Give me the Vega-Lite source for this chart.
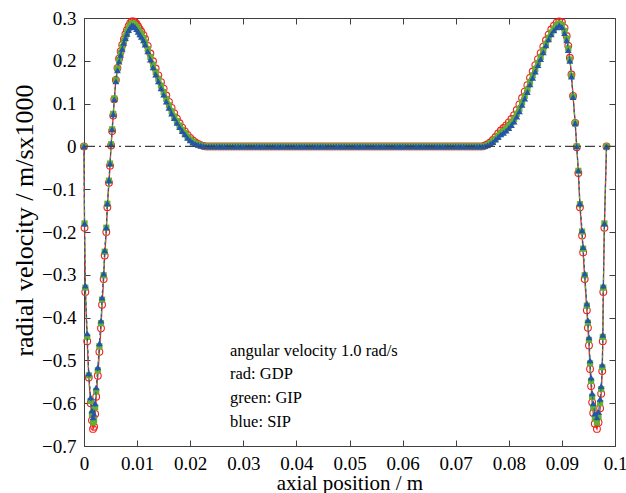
{
  "$schema": "https://vega.github.io/schema/vega-lite/v6.json",
  "width": 531,
  "height": 428,
  "autosize": {"type": "none"},
  "padding": {"left": 84, "top": 18, "right": 11, "bottom": 47},
  "background": "white",
  "config": {
    "font": "Liberation Serif",
    "view": {"stroke": "#404040", "strokeWidth": 1},
    "axis": {
      "grid": false,
      "domainColor": "#404040",
      "tickColor": "#404040",
      "labelColor": "black",
      "titleColor": "black",
      "labelFont": "Liberation Serif",
      "titleFont": "Liberation Serif",
      "labelFontSize": 19,
      "titleFontSize": 21,
      "titleFontWeight": "normal",
      "labelFlush": false,
      "labelOverlap": false
    }
  },
  "datasets": {
    "prof": [
      {"x":0,"r":0,"g":0,"b":0},
      {"x":0.0001,"r":-0.19,"g":-0.18,"b":-0.18},
      {"x":0.00025,"r":-0.34,"g":-0.33,"b":-0.325},
      {"x":0.0006,"r":-0.455,"g":-0.445,"b":-0.437},
      {"x":0.0009,"r":-0.54,"g":-0.535,"b":-0.53},
      {"x":0.00125,"r":-0.6,"g":-0.595,"b":-0.586},
      {"x":0.0015,"r":-0.64,"g":-0.625,"b":-0.617},
      {"x":0.0017,"r":-0.66,"g":-0.645,"b":-0.633},
      {"x":0.0019,"r":-0.655,"g":-0.64,"b":-0.625},
      {"x":0.0021,"r":-0.625,"g":-0.61,"b":-0.6},
      {"x":0.0023,"r":-0.585,"g":-0.572,"b":-0.563},
      {"x":0.0026,"r":-0.536,"g":-0.523,"b":-0.516},
      {"x":0.0029,"r":-0.48,"g":-0.467,"b":-0.46},
      {"x":0.0032,"r":-0.425,"g":-0.413,"b":-0.407},
      {"x":0.0034,"r":-0.37,"g":-0.358,"b":-0.353},
      {"x":0.0037,"r":-0.31,"g":-0.301,"b":-0.297},
      {"x":0.0039,"r":-0.255,"g":-0.246,"b":-0.243},
      {"x":0.0042,"r":-0.2,"g":-0.19,"b":-0.189},
      {"x":0.0044,"r":-0.142,"g":-0.134,"b":-0.133},
      {"x":0.0047,"r":-0.085,"g":-0.08,"b":-0.079},
      {"x":0.0049,"r":-0.045,"g":-0.04,"b":-0.04},
      {"x":0.0051,"r":0.002,"g":0.005,"b":0.005},
      {"x":0.0053,"r":0.036,"g":0.04,"b":0.04},
      {"x":0.0055,"r":0.072,"g":0.076,"b":0.075},
      {"x":0.0057,"r":0.11,"g":0.112,"b":0.11},
      {"x":0.006,"r":0.155,"g":0.155,"b":0.152},
      {"x":0.0063,"r":0.183,"g":0.182,"b":0.178},
      {"x":0.0066,"r":0.205,"g":0.202,"b":0.198},
      {"x":0.0069,"r":0.222,"g":0.218,"b":0.214},
      {"x":0.0072,"r":0.237,"g":0.232,"b":0.228},
      {"x":0.0075,"r":0.25,"g":0.246,"b":0.242},
      {"x":0.0078,"r":0.262,"g":0.257,"b":0.253},
      {"x":0.0081,"r":0.272,"g":0.267,"b":0.263},
      {"x":0.0084,"r":0.281,"g":0.276,"b":0.272},
      {"x":0.0087,"r":0.288,"g":0.283,"b":0.278},
      {"x":0.009,"r":0.292,"g":0.287,"b":0.283},
      {"x":0.0093,"r":0.292,"g":0.287,"b":0.282},
      {"x":0.0096,"r":0.29,"g":0.284,"b":0.279},
      {"x":0.0099,"r":0.286,"g":0.279,"b":0.274},
      {"x":0.0102,"r":0.28,"g":0.273,"b":0.268},
      {"x":0.0105,"r":0.274,"g":0.267,"b":0.262},
      {"x":0.0108,"r":0.268,"g":0.261,"b":0.256},
      {"x":0.0112,"r":0.26,"g":0.253,"b":0.248},
      {"x":0.0115,"r":0.251,"g":0.243,"b":0.238},
      {"x":0.012,"r":0.235,"g":0.227,"b":0.222},
      {"x":0.0125,"r":0.217,"g":0.209,"b":0.203},
      {"x":0.013,"r":0.199,"g":0.191,"b":0.185},
      {"x":0.0135,"r":0.182,"g":0.174,"b":0.168},
      {"x":0.014,"r":0.166,"g":0.158,"b":0.152},
      {"x":0.0145,"r":0.15,"g":0.142,"b":0.136},
      {"x":0.015,"r":0.135,"g":0.127,"b":0.121},
      {"x":0.0155,"r":0.119,"g":0.111,"b":0.105},
      {"x":0.016,"r":0.104,"g":0.096,"b":0.09},
      {"x":0.0165,"r":0.09,"g":0.082,"b":0.077},
      {"x":0.017,"r":0.077,"g":0.07,"b":0.066},
      {"x":0.0175,"r":0.065,"g":0.059,"b":0.055},
      {"x":0.018,"r":0.054,"g":0.049,"b":0.045},
      {"x":0.0185,"r":0.044,"g":0.039,"b":0.036},
      {"x":0.019,"r":0.035,"g":0.031,"b":0.028},
      {"x":0.0195,"r":0.027,"g":0.023,"b":0.02},
      {"x":0.02,"r":0.02,"g":0.016,"b":0.014},
      {"x":0.0205,"r":0.014,"g":0.011,"b":0.009},
      {"x":0.021,"r":0.009,"g":0.007,"b":0.006},
      {"x":0.0215,"r":0.006,"g":0.004,"b":0.004},
      {"x":0.022,"r":0.003,"g":0.002,"b":0.002},
      {"x":0.0225,"r":0.001,"g":0.001,"b":0.001},
      {"x":0.023,"r":0,"g":0,"b":0},
      {"x":0.0235,"r":0,"g":0,"b":0},
      {"x":0.024,"r":0,"g":0,"b":0},
      {"x":0.0245,"r":0,"g":0,"b":0},
      {"x":0.025,"r":0,"g":0,"b":0},
      {"x":0.0255,"r":0,"g":0,"b":0},
      {"x":0.026,"r":0,"g":0,"b":0},
      {"x":0.0265,"r":0,"g":0,"b":0},
      {"x":0.027,"r":0,"g":0,"b":0},
      {"x":0.0275,"r":0,"g":0,"b":0},
      {"x":0.028,"r":0,"g":0,"b":0},
      {"x":0.0285,"r":0,"g":0,"b":0},
      {"x":0.029,"r":0,"g":0,"b":0},
      {"x":0.0295,"r":0,"g":0,"b":0},
      {"x":0.03,"r":0,"g":0,"b":0},
      {"x":0.0305,"r":0,"g":0,"b":0},
      {"x":0.031,"r":0,"g":0,"b":0},
      {"x":0.0315,"r":0,"g":0,"b":0},
      {"x":0.032,"r":0,"g":0,"b":0},
      {"x":0.0325,"r":0,"g":0,"b":0},
      {"x":0.033,"r":0,"g":0,"b":0},
      {"x":0.0335,"r":0,"g":0,"b":0},
      {"x":0.034,"r":0,"g":0,"b":0},
      {"x":0.0345,"r":0,"g":0,"b":0},
      {"x":0.035,"r":0,"g":0,"b":0},
      {"x":0.0355,"r":0,"g":0,"b":0},
      {"x":0.036,"r":0,"g":0,"b":0},
      {"x":0.0365,"r":0,"g":0,"b":0},
      {"x":0.037,"r":0,"g":0,"b":0},
      {"x":0.0375,"r":0,"g":0,"b":0},
      {"x":0.038,"r":0,"g":0,"b":0},
      {"x":0.0385,"r":0,"g":0,"b":0},
      {"x":0.039,"r":0,"g":0,"b":0},
      {"x":0.0395,"r":0,"g":0,"b":0},
      {"x":0.04,"r":0,"g":0,"b":0},
      {"x":0.0405,"r":0,"g":0,"b":0},
      {"x":0.041,"r":0,"g":0,"b":0},
      {"x":0.0415,"r":0,"g":0,"b":0},
      {"x":0.042,"r":0,"g":0,"b":0},
      {"x":0.0425,"r":0,"g":0,"b":0},
      {"x":0.043,"r":0,"g":0,"b":0},
      {"x":0.0435,"r":0,"g":0,"b":0},
      {"x":0.044,"r":0,"g":0,"b":0},
      {"x":0.0445,"r":0,"g":0,"b":0},
      {"x":0.045,"r":0,"g":0,"b":0},
      {"x":0.0455,"r":0,"g":0,"b":0},
      {"x":0.046,"r":0,"g":0,"b":0},
      {"x":0.0465,"r":0,"g":0,"b":0},
      {"x":0.047,"r":0,"g":0,"b":0},
      {"x":0.0475,"r":0,"g":0,"b":0},
      {"x":0.048,"r":0,"g":0,"b":0},
      {"x":0.0485,"r":0,"g":0,"b":0},
      {"x":0.049,"r":0,"g":0,"b":0},
      {"x":0.0495,"r":0,"g":0,"b":0},
      {"x":0.05,"r":0,"g":0,"b":0},
      {"x":0.0505,"r":0,"g":0,"b":0},
      {"x":0.051,"r":0,"g":0,"b":0},
      {"x":0.0515,"r":0,"g":0,"b":0},
      {"x":0.052,"r":0,"g":0,"b":0},
      {"x":0.0525,"r":0,"g":0,"b":0},
      {"x":0.053,"r":0,"g":0,"b":0},
      {"x":0.0535,"r":0,"g":0,"b":0},
      {"x":0.054,"r":0,"g":0,"b":0},
      {"x":0.0545,"r":0,"g":0,"b":0},
      {"x":0.055,"r":0,"g":0,"b":0},
      {"x":0.0555,"r":0,"g":0,"b":0},
      {"x":0.056,"r":0,"g":0,"b":0},
      {"x":0.0565,"r":0,"g":0,"b":0},
      {"x":0.057,"r":0,"g":0,"b":0},
      {"x":0.0575,"r":0,"g":0,"b":0},
      {"x":0.058,"r":0,"g":0,"b":0},
      {"x":0.0585,"r":0,"g":0,"b":0},
      {"x":0.059,"r":0,"g":0,"b":0},
      {"x":0.0595,"r":0,"g":0,"b":0},
      {"x":0.06,"r":0,"g":0,"b":0},
      {"x":0.0605,"r":0,"g":0,"b":0},
      {"x":0.061,"r":0,"g":0,"b":0},
      {"x":0.0615,"r":0,"g":0,"b":0},
      {"x":0.062,"r":0,"g":0,"b":0},
      {"x":0.0625,"r":0,"g":0,"b":0},
      {"x":0.063,"r":0,"g":0,"b":0},
      {"x":0.0635,"r":0,"g":0,"b":0},
      {"x":0.064,"r":0,"g":0,"b":0},
      {"x":0.0645,"r":0,"g":0,"b":0},
      {"x":0.065,"r":0,"g":0,"b":0},
      {"x":0.0655,"r":0,"g":0,"b":0},
      {"x":0.066,"r":0,"g":0,"b":0},
      {"x":0.0665,"r":0,"g":0,"b":0},
      {"x":0.067,"r":0,"g":0,"b":0},
      {"x":0.0675,"r":0,"g":0,"b":0},
      {"x":0.068,"r":0,"g":0,"b":0},
      {"x":0.0685,"r":0,"g":0,"b":0},
      {"x":0.069,"r":0,"g":0,"b":0},
      {"x":0.0695,"r":0,"g":0,"b":0},
      {"x":0.07,"r":0,"g":0,"b":0},
      {"x":0.0705,"r":0,"g":0,"b":0},
      {"x":0.071,"r":0,"g":0,"b":0},
      {"x":0.0715,"r":0,"g":0,"b":0},
      {"x":0.072,"r":0,"g":0,"b":0},
      {"x":0.0725,"r":0,"g":0,"b":0},
      {"x":0.073,"r":0,"g":0,"b":0},
      {"x":0.0735,"r":0,"g":0,"b":0},
      {"x":0.074,"r":0,"g":0,"b":0},
      {"x":0.0745,"r":0,"g":0,"b":0},
      {"x":0.075,"r":0,"g":0,"b":0},
      {"x":0.0755,"r":0.002,"g":0.001,"b":0.001},
      {"x":0.076,"r":0.005,"g":0.003,"b":0.003},
      {"x":0.0765,"r":0.009,"g":0.007,"b":0.006},
      {"x":0.077,"r":0.015,"g":0.012,"b":0.01},
      {"x":0.0775,"r":0.022,"g":0.018,"b":0.016},
      {"x":0.078,"r":0.03,"g":0.025,"b":0.022},
      {"x":0.0785,"r":0.037,"g":0.031,"b":0.028},
      {"x":0.079,"r":0.043,"g":0.036,"b":0.032},
      {"x":0.0795,"r":0.049,"g":0.042,"b":0.037},
      {"x":0.08,"r":0.056,"g":0.048,"b":0.043},
      {"x":0.0805,"r":0.064,"g":0.056,"b":0.05},
      {"x":0.081,"r":0.073,"g":0.064,"b":0.058},
      {"x":0.0815,"r":0.085,"g":0.076,"b":0.07},
      {"x":0.082,"r":0.098,"g":0.088,"b":0.082},
      {"x":0.0825,"r":0.113,"g":0.103,"b":0.097},
      {"x":0.083,"r":0.128,"g":0.118,"b":0.112},
      {"x":0.0835,"r":0.143,"g":0.133,"b":0.127},
      {"x":0.084,"r":0.16,"g":0.151,"b":0.145},
      {"x":0.0845,"r":0.175,"g":0.166,"b":0.16},
      {"x":0.085,"r":0.19,"g":0.181,"b":0.175},
      {"x":0.0855,"r":0.204,"g":0.195,"b":0.19},
      {"x":0.086,"r":0.218,"g":0.209,"b":0.204},
      {"x":0.0865,"r":0.233,"g":0.225,"b":0.22},
      {"x":0.087,"r":0.248,"g":0.24,"b":0.236},
      {"x":0.0875,"r":0.261,"g":0.254,"b":0.25},
      {"x":0.088,"r":0.273,"g":0.266,"b":0.262},
      {"x":0.0885,"r":0.282,"g":0.275,"b":0.271},
      {"x":0.089,"r":0.289,"g":0.283,"b":0.278},
      {"x":0.0895,"r":0.292,"g":0.287,"b":0.283},
      {"x":0.09,"r":0.29,"g":0.284,"b":0.279},
      {"x":0.0905,"r":0.277,"g":0.27,"b":0.265},
      {"x":0.0909,"r":0.258,"g":0.252,"b":0.248},
      {"x":0.0912,"r":0.235,"g":0.229,"b":0.225},
      {"x":0.0915,"r":0.207,"g":0.203,"b":0.2},
      {"x":0.0918,"r":0.168,"g":0.165,"b":0.163},
      {"x":0.0921,"r":0.118,"g":0.116,"b":0.115},
      {"x":0.0925,"r":0.055,"g":0.054,"b":0.054},
      {"x":0.0928,"r":-0.002,"g":0,"b":0},
      {"x":0.0931,"r":-0.062,"g":-0.057,"b":-0.056},
      {"x":0.0934,"r":-0.142,"g":-0.135,"b":-0.133},
      {"x":0.0938,"r":-0.208,"g":-0.199,"b":-0.196},
      {"x":0.094,"r":-0.248,"g":-0.239,"b":-0.235},
      {"x":0.0943,"r":-0.31,"g":-0.301,"b":-0.297},
      {"x":0.0947,"r":-0.383,"g":-0.372,"b":-0.367},
      {"x":0.0949,"r":-0.424,"g":-0.412,"b":-0.406},
      {"x":0.0951,"r":-0.465,"g":-0.452,"b":-0.446},
      {"x":0.0953,"r":-0.52,"g":-0.507,"b":-0.5},
      {"x":0.0955,"r":-0.56,"g":-0.548,"b":-0.54},
      {"x":0.0957,"r":-0.598,"g":-0.585,"b":-0.577},
      {"x":0.0959,"r":-0.623,"g":-0.61,"b":-0.6},
      {"x":0.0962,"r":-0.648,"g":-0.635,"b":-0.624},
      {"x":0.0966,"r":-0.66,"g":-0.645,"b":-0.633},
      {"x":0.0969,"r":-0.645,"g":-0.632,"b":-0.62},
      {"x":0.0972,"r":-0.612,"g":-0.6,"b":-0.59},
      {"x":0.0974,"r":-0.578,"g":-0.567,"b":-0.56},
      {"x":0.0976,"r":-0.525,"g":-0.516,"b":-0.51},
      {"x":0.0977,"r":-0.455,"g":-0.445,"b":-0.44},
      {"x":0.0978,"r":-0.34,"g":-0.33,"b":-0.325},
      {"x":0.098,"r":-0.19,"g":-0.18,"b":-0.18},
      {"x":0.0984,"r":0,"g":0,"b":0}
    ]
  },
  "layer": [
    {
      "data": {"name": "prof"},
      "transform": [{"fold": ["r", "g", "b"], "as": ["s", "v"]}],
      "layer": [
        {
          "transform": [{"filter": "datum.s === 'r'"}],
          "mark": {"type": "line", "color": "#f02020", "strokeWidth": 1.3},
          "encoding": {
            "x": {"field": "x", "type": "quantitative", "scale": {"domain": [0, 0.1], "nice": false, "zero": false},
              "axis": {"values": [0, 0.01, 0.02, 0.03, 0.04, 0.05, 0.06, 0.07, 0.08, 0.09, 0.1], "format": "~g", "tickSize": -6, "labelPadding": 14, "title": "axial position / m", "titlePadding": -1}},
            "y": {"field": "v", "type": "quantitative", "scale": {"domain": [-0.7, 0.3], "nice": false, "zero": false},
              "axis": {"values": [-0.7, -0.6, -0.5, -0.4, -0.3, -0.2, -0.1, 0, 0.1, 0.2, 0.3], "format": "~g", "tickSize": -6, "labelPadding": 14, "title": "radial velocity / m/sx1000", "titleFontSize": 26, "titlePadding": 4, "titleY": 202}},
            "order": {"field": "x", "type": "quantitative"}
          }
        },
        {
          "transform": [{"filter": "datum.s === 'r'"}],
          "mark": {"type": "point", "shape": "circle", "filled": false, "color": "#f02020", "strokeWidth": 1.1, "size": 46, "opacity": 1},
          "encoding": {
            "x": {"field": "x", "type": "quantitative", "axis": null},
            "y": {"field": "v", "type": "quantitative", "axis": null}
          }
        },
        {
          "transform": [{"filter": "datum.s === 'g'"}],
          "mark": {"type": "line", "color": "#66b030", "strokeWidth": 1.3, "strokeDash": [4, 3]},
          "encoding": {
            "x": {"field": "x", "type": "quantitative", "axis": null},
            "y": {"field": "v", "type": "quantitative", "axis": null},
            "order": {"field": "x", "type": "quantitative"}
          }
        },
        {
          "transform": [{"filter": "datum.s === 'g'"}],
          "mark": {"type": "square", "filled": true, "color": "#66b030", "size": 38, "opacity": 1},
          "encoding": {
            "x": {"field": "x", "type": "quantitative", "axis": null},
            "y": {"field": "v", "type": "quantitative", "axis": null}
          }
        },
        {
          "transform": [{"filter": "datum.s === 'b'"}],
          "mark": {"type": "line", "color": "#2456a8", "strokeWidth": 1.1, "strokeDash": [3, 3]},
          "encoding": {
            "x": {"field": "x", "type": "quantitative", "axis": null},
            "y": {"field": "v", "type": "quantitative", "axis": null},
            "order": {"field": "x", "type": "quantitative"}
          }
        },
        {
          "transform": [{"filter": "datum.s === 'b'"}],
          "mark": {"type": "point", "shape": "triangle-up", "filled": true, "color": "#2456a8", "size": 46, "opacity": 1},
          "encoding": {
            "x": {"field": "x", "type": "quantitative",
              "axis": {"orient": "top", "values": [0, 0.01, 0.02, 0.03, 0.04, 0.05, 0.06, 0.07, 0.08, 0.09, 0.1], "labels": false, "domain": false, "tickSize": -6, "title": null}},
            "y": {"field": "v", "type": "quantitative",
              "axis": {"orient": "right", "values": [-0.7, -0.6, -0.5, -0.4, -0.3, -0.2, -0.1, 0, 0.1, 0.2, 0.3], "labels": false, "domain": false, "tickSize": -6, "title": null}}
          }
        }
      ],
      "resolve": {"axis": {"x": "independent", "y": "independent"}}
    },
    {
      "data": {"values": [{}]},
      "mark": {"type": "rule", "color": "#404040", "strokeWidth": 1.2, "strokeDash": [10, 4, 2, 4]},
      "encoding": {"y": {"datum": 0, "type": "quantitative", "axis": null}}
    },
    {
      "data": {"values": [{}]},
      "mark": {"type": "text", "text": ["angular velocity 1.0 rad/s", "rad: GDP", "green: GIP", "blue: SIP"], "align": "left", "baseline": "middle", "fontSize": 16.5, "lineHeight": 23.7, "color": "black", "font": "Liberation Serif"},
      "encoding": {
        "x": {"datum": 0.0275, "type": "quantitative", "axis": null},
        "y": {"datum": -0.477, "type": "quantitative", "axis": null}
      }
    }
  ]
}
